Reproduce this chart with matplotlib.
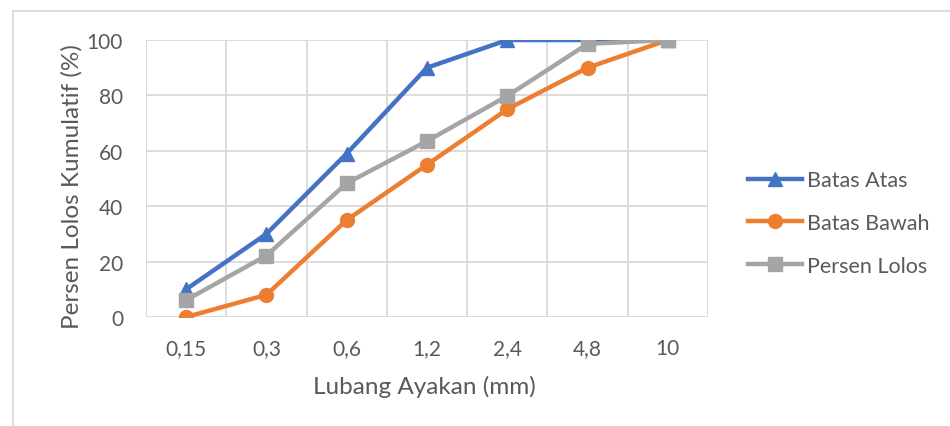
import numpy as np
import matplotlib.pyplot as plt
from matplotlib.patches import Rectangle

sieve_sizes = ['0,15', '0,3', '0,6', '1,2', '2,4', '4,8', '10']
batas_atas = [10, 30, 59, 90, 100, 100, 100]
batas_bawah = [0, 8, 35, 55, 75, 90, 100]
persen_lolos = [6.1, 22.2, 48.3, 63.5, 79.8, 98.6, 100]

plt.rcParams['font.family'] = ['Lato', 'DejaVu Sans']
text_color = '#595959'
grid_color = '#D9D9D9'

fig = plt.figure(figsize=(9.5, 4.27), dpi=100)
ax = fig.add_axes([146/950, 1 - 318/427, (708 - 146)/950, (318 - 41)/427])

x = np.arange(len(sieve_sizes))
ax.plot(x, batas_atas, color='#4472C4', lw=3.2, marker='^', ms=10, label='Batas Atas', zorder=3)
ax.plot(x, batas_bawah, color='#ED7D31', lw=3.2, marker='o', ms=10, label='Batas Bawah', zorder=3)
ax.plot(x, persen_lolos, color='#A5A5A5', lw=3.2, marker='s', ms=9.5, label='Persen Lolos', zorder=3)

ax.set_xlim(-0.5, len(sieve_sizes) - 0.5)
ax.set_ylim(0, 100)
ax.set_yticks(range(0, 101, 20))
ax.set_xticks(x)
ax.set_xticklabels(sieve_sizes)
ax.set_xticks(np.arange(-0.5, len(sieve_sizes)), minor=True)
ax.grid(True, which='minor', axis='x', color=grid_color, lw=1.3)
ax.grid(True, which='major', axis='y', color=grid_color, lw=1.3)
ax.set_axisbelow(True)
for s in ax.spines.values():
    s.set_visible(False)
ax.tick_params(which='both', length=0, colors=text_color, labelsize=15)
ax.tick_params(axis='x', pad=15)
ax.tick_params(axis='y', pad=16.5)

fig.text(424/950, 1 - 387/427, 'Lubang Ayakan (mm)', fontsize=17.5, color=text_color,
         ha='center', va='center')
fig.text(72/950, 1 - 187/427, 'Persen Lolos Kumulatif (%)', fontsize=17.5, color=text_color,
         ha='center', va='center', rotation=90)

leg = fig.legend(*ax.get_legend_handles_labels(), loc='center left',
                 bbox_to_anchor=(748/950, 1 - 224/427), frameon=False,
                 fontsize=15.5, labelspacing=1.05, handlelength=2.5, handletextpad=0.25,
                 borderpad=0, borderaxespad=0)
for t in leg.get_texts():
    t.set_color(text_color)

fig.patches.append(Rectangle((13/950, -0.1), 1.2, 1 - 12/427 + 0.1, transform=fig.transFigure,
                             fill=False, edgecolor=grid_color, lw=1.3))

fig.savefig('out.png', dpi=100)
